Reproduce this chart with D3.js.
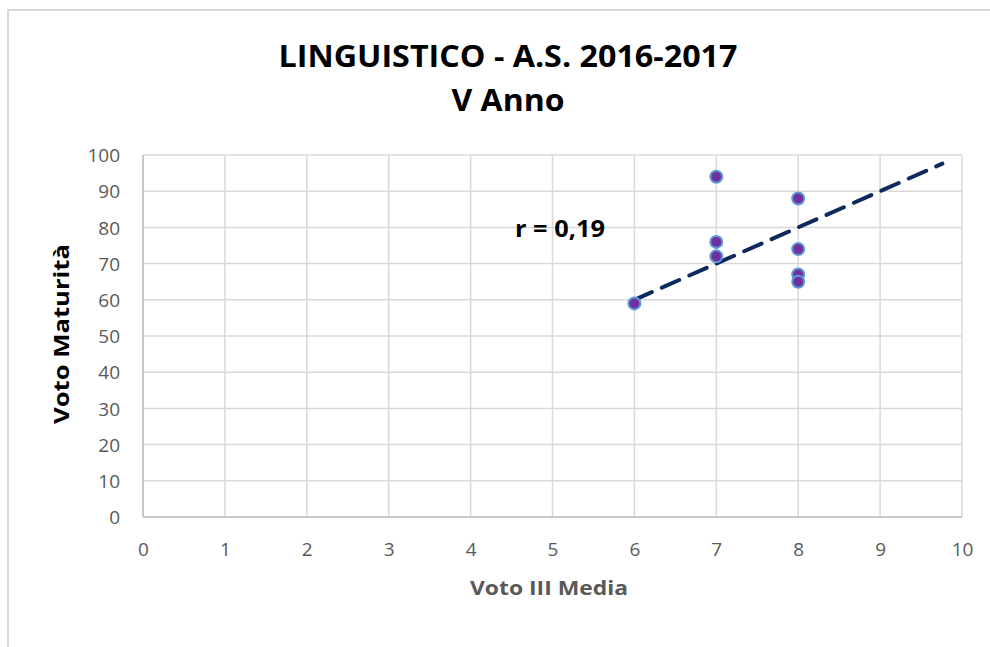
<!DOCTYPE html>
<html>
<head>
<meta charset="utf-8">
<script src="https://cdn.jsdelivr.net/npm/d3@7"></script>
<style>
  html, body { margin: 0; padding: 0; background: #fff; }
  svg { display: block; }
</style>
</head>
<body>
<svg id="chart" width="990" height="647"></svg>
<script>
// ---- data ----
const votoMedia = [6, 7, 7, 7, 8, 8, 8, 8];
const votoMaturita = [59, 94, 76, 72, 88, 74, 67, 65];
const trendX = [6, 9.76];
const trendY = [60, 97.6];
const xTicks = [0, 1, 2, 3, 4, 5, 6, 7, 8, 9, 10];
const yTicks = [0, 10, 20, 30, 40, 50, 60, 70, 80, 90, 100];
const titleLines = ["LINGUISTICO - A.S. 2016-2017", "V Anno"];
const xTitle = "Voto III Media";
const yTitle = "Voto Maturità";
const annotation = "r = 0,19";

const svg = d3.select("#chart");
const font = "'Open Sans', 'Liberation Sans', sans-serif";

// outer chart border
svg.append("rect").attr("x", 8).attr("y", 10).attr("width", 1000).attr("height", 700)
  .attr("fill", "#fff").attr("stroke", "#d9d9d9").attr("stroke-width", 2);

const L = 143, R = 962, T = 155, B = 517;
const x = d3.scaleLinear().domain([0, 10]).range([L, R]);
const y = d3.scaleLinear().domain([0, 100]).range([B, T]);

// gridlines
svg.append("g").selectAll("line").data(yTicks).join("line")
  .attr("x1", L).attr("x2", R).attr("y1", d => y(d)).attr("y2", d => y(d))
  .attr("stroke", "#d9d9d9").attr("stroke-width", 1.5);
svg.append("g").selectAll("line").data(xTicks).join("line")
  .attr("y1", T).attr("y2", B).attr("x1", d => x(d)).attr("x2", d => x(d))
  .attr("stroke", "#d9d9d9").attr("stroke-width", 1.5);

// axes lines
svg.append("line").attr("x1", L).attr("x2", R).attr("y1", B).attr("y2", B)
  .attr("stroke", "#bfbfbf").attr("stroke-width", 1.5);
svg.append("line").attr("x1", L).attr("x2", L).attr("y1", T).attr("y2", B)
  .attr("stroke", "#bfbfbf").attr("stroke-width", 1.5);

// axes via d3
const xAxis = d3.axisBottom(x).tickValues(xTicks).tickSize(0).tickPadding(0).tickFormat(d3.format("d"));
const gx = svg.append("g").attr("transform", `translate(0,${B + 32})`).call(xAxis);
gx.select(".domain").remove();
gx.selectAll("text").attr("fill", "#595959").attr("font-size", 19).attr("font-family", font)
  .attr("dy", "0.35em").attr("y", 0);

const yAxis = d3.axisLeft(y).tickValues(yTicks).tickSize(0).tickPadding(0).tickFormat(d3.format("d"));
const gy = svg.append("g").attr("transform", `translate(120,0)`).call(yAxis);
gy.select(".domain").remove();
gy.selectAll("text").attr("fill", "#595959").attr("font-size", 19).attr("font-family", font)
  .attr("x", 0).attr("dy", "0.35em");

// trendline
svg.append("line")
  .attr("x1", x(trendX[0])).attr("y1", y(trendY[0]))
  .attr("x2", x(trendX[1])).attr("y2", y(trendY[1]))
  .attr("stroke", "#0e2a5c").attr("stroke-width", 4)
  .attr("stroke-dasharray", "19 11").attr("stroke-linecap", "round");

// points
svg.append("g").selectAll("circle").data(votoMedia.map((v, i) => [v, votoMaturita[i]])).join("circle")
  .attr("cx", d => x(d[0])).attr("cy", d => y(d[1])).attr("r", 6)
  .attr("fill", "#7030a0").attr("stroke", "#5b9bd5").attr("stroke-width", 2);

// titles
svg.append("text").attr("x", 508).attr("y", 67).attr("text-anchor", "middle")
  .attr("font-family", font).attr("font-weight", "bold").attr("font-size", 31)
  .attr("fill", "#000").attr("textLength", 459).attr("lengthAdjust", "spacingAndGlyphs")
  .text(titleLines[0]);
svg.append("text").attr("x", 508).attr("y", 111).attr("text-anchor", "middle")
  .attr("font-family", font).attr("font-weight", "bold").attr("font-size", 31)
  .attr("fill", "#000").attr("textLength", 113).attr("lengthAdjust", "spacingAndGlyphs")
  .text(titleLines[1]);

// axis titles
svg.append("text").attr("x", 549).attr("y", 595).attr("text-anchor", "middle")
  .attr("font-family", font).attr("font-weight", "bold").attr("font-size", 20)
  .attr("fill", "#595959").attr("textLength", 158).attr("lengthAdjust", "spacingAndGlyphs")
  .text(xTitle);
svg.append("text").attr("transform", "translate(69,334) rotate(-90)").attr("text-anchor", "middle")
  .attr("font-family", font).attr("font-weight", "bold").attr("font-size", 21)
  .attr("fill", "#000").attr("textLength", 180).attr("lengthAdjust", "spacingAndGlyphs")
  .text(yTitle);

// annotation
svg.append("text").attr("x", 515).attr("y", 237)
  .attr("font-family", font).attr("font-weight", "bold").attr("font-size", 24)
  .attr("fill", "#000").attr("textLength", 90).attr("lengthAdjust", "spacingAndGlyphs")
  .text(annotation);
</script>
</body>
</html>
